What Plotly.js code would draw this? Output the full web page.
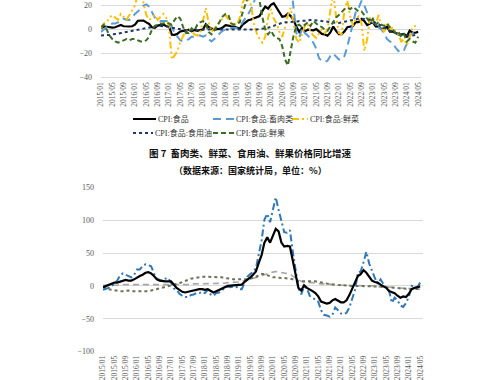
<!DOCTYPE html>
<html><head><meta charset="utf-8">
<script src="https://cdn.plot.ly/plotly-3.0.1.min.js"></script>
<style>html,body{margin:0;padding:0;background:#fff;}#chart{width:500px;height:380px;}</style>
</head><body><div id="chart"></div>
<script>
// month categories 2015/01 .. 2024/05
const startYear = 2015, endYear = 2024, endMonth = 5;
const months = [];
for (let y = startYear; y <= endYear; y++) {
  for (let m = 1; m <= 12; m++) {
    if (y === endYear && m > endMonth) break;
    months.push(y + '/' + String(m).padStart(2, '0'));
  }
}
const tickLabels = months.filter((_, i) => i % 4 === 0);

// ---- Figure 7 (top) ----
const food = [1.1,2.4,2.3,1.9,1.6,1.9,2.7,3.7,2.7,2.3,2.5,2.7,
  4.1,7.3,7.6,7.4,5.9,4.6,1.8,1.3,3.2,3.8,4.0,2.9,
  2.7,-4.3,-4.4,-3.5,-1.6,-1.2,-1.1,-0.2,-1.4,-0.4,-1.1,-0.4,
  0.0,4.4,2.1,0.7,0.1,0.3,0.5,1.7,3.6,3.3,2.5,2.5,
  1.9,0.7,4.1,6.1,7.7,8.3,9.1,10.0,11.2,15.5,19.1,17.4,
  20.6,21.9,18.3,14.8,10.6,11.1,13.2,11.2,7.9,2.2,-2.0,1.2,
  -1.6,-0.2,-0.7,-0.7,0.3,-1.7,-3.7,-4.1,-5.2,-2.4,2.5,-1.2,
  -3.8,-3.9,-1.5,1.9,2.3,2.9,6.3,6.1,8.8,7.0,3.7,4.8,
  6.2,2.6,2.4,0.4,1.0,2.3,-1.7,-1.7,-3.2,-4.0,-4.2,-3.7,
  -5.9,-0.9,-2.7,-2.7,-2.0];
const livestock = [-2,0,2,4,5,5,6,8,9,8,8,10,
  13,15,17,20,21,19,15,10,8,7,7,7,
  7,2,-3,-6,-9,-10,-9,-8,-6,-6,-5,-5,
  -6,-5,-8,-10,-8,-6,-3,-1,0,0.5,1,1.5,
  1,2,6,9,13,17,22,35,47,66,74,66,
  76,87,83,66,60,61,60,40,18,-3,-7,1,
  -3,-5,-8,-11,-16,-24,-26,-27,-26,-22,-20,-23,
  -25,-25,-22,-14,-4,6,15,18,24,20,14,8,
  6,5,2,0,-3,-8,-10,-11,-15,-18,-16,-17,
  -12,-5,-3,-2,-1];
const vegetables = [1,5,6,10,12,10,8,13,10,8,12,16,
  20,30,35,22,12,8,10,12,8,11,13,10,
  2,-25,-22,-18,-10,-6,-1,1,-2,-4,-5,-3,
  7,18,6,-2,1,4,6,10,12,8,5,5,
  4,10,22,27,25,20,5,-3,-8,-11,-6,10,
  17,9,5,-2,-6,2,12,18,6,-8,-11,-3,
  3,5,-2,-5,-7,-3,0,-3,0,16,30,11,
  -3,-4,17,24,11,3,9,11,5,-18,-8,10,
  7,4,12,2,-2,6,-1,2,-2,-4,-10,-8,
  -13,-7,2,3,4];
const edibleOil = [-5,-5,-5,-4.5,-4,-4,-3.5,-3,-2.5,-2,-1.5,-1,
  -0.5,0,0.5,1,1.5,2,2.5,3,3,3,3,2.5,
  2,1.5,1,0.5,0,-0.5,-1,-1,-1,-1,-1,-0.5,
  0,0,0,0,-0.5,-0.5,-0.5,-0.5,0,0,0,0,
  0,0,0,0,0,0,0,0,0.5,0.5,1,1.5,
  2,3,4,5,5.5,6,6,6,6,6.5,7,7,
  7,7.5,8,8,8,7.5,7,7,6.5,6,5.5,5.5,
  5.5,6,7,7.5,8,8.5,8.5,9,9,9,8.5,8,
  7,6,4.5,3,1.5,0,-1,-2,-3,-3.5,-4,-4.5,
  -5,-5,-5,-4.5,-4];
const fruit = [2,4,0,-5,-8,-10,-11,-10,-9,-8,-9,-8,
  -8,-9,-10,-10,-9,-6,0,3,4,5,5,6,
  5,4,8,11,9,2,-3,-3,1,-1,4,6,
  7,5,-2,-4,-1,3,7,11,13,12,5,4,
  5,6,14,20,28,42,39,36,24,10,0,-4,
  -1,-5,-7,-8,-14,-25,-30,-18,-5,3,4,2,
  4,6,3,7,5,3,2,0,-1,3,7,10,
  12,15,17,18,17,19,17,15,15,12,8,6,
  9,4,6,4,3,5,2,0,-3,-2,-6,-4,
  -10,-8,-10,-11,-6];

// ---- Figure 8 (bottom) ----
const pork = [-6,-5,-3,0,3,8,16,19,17,15,13,17,
  25,25,30,33,31,30,19,11,9,8,11,12,
  5,-4,-6,-12,-15,-17,-17,-14,-13,-11,-11,-9,
  -11,-6,-13,-15,-11,-10,-7,-3,-1,-2,-1,-1,
  -5,-5,5,14,18,21,27,47,69,101,110,97,
  116,135,116,97,82,81,85,53,26,-3,-13,-1,
  -4,-15,-18,-21,-24,-37,-44,-45,-47,-44,-33,-37,
  -42,-43,-41,-33,-21,-6,20,22,36,52,34,22,
  12,3,10,3,-3,-7,-26,-18,-22,-30,-32,-26,
  -17,0,-2,-2,5];
const mutton = [-2,-4,-5,-6,-7,-7,-8,-8,-7,-7,-8,-8,
  -8,-8,-9,-8,-8,-7,-6,-5,-4,-3,-2,-1,
  0,1,2,4,6,7,9,11,12,13,13,14,
  14,14,14,14,13,13,13,12,12,11,10,10,
  9,9,9,10,11,12,14,16,18,18,16,14,
  13,13,12,12,12,12,11,10,8,7,7,7,
  7,8,8,7,6,5,4,3,2,2,2,1,
  1,1,0,0,0,0,0,-1,-1,0,0,0,
  0,-1,-1,-2,-2,-2,-3,-3,-3,-4,-4,-4,
  -4,-4,-5,-5,-5];
const beef = [1,1,0,0,1,1,2,2,2,2,1,1,
  1,1,2,2,2,2,2,2,2,2,2,2,
  2,2,2,2,2,2,2,3,3,3,3,3,
  3,4,4,4,4,4,4,4,5,5,5,6,
  6,7,8,9,10,11,12,13,15,17,19,20,
  21,22,21,20,19,18,18,15,12,9,7,6,
  5,5,5,4,4,3,3,3,2,2,2,2,
  1,1,1,1,0,0,0,0,0,0,0,0,
  0,-1,-1,-1,-2,-2,-2,-3,-3,-3,-4,-4,
  -4,-5,-5,-5,-5];

const topNames = ['CPI:食品', 'CPI:食品:畜肉类', 'CPI:食品:鲜菜', 'CPI:食品:食用油', 'CPI:食品:鲜果'];
const bottomNames = ['CPI:食品:畜肉类', 'CPI:食品:猪肉', 'CPI:食品:羊肉', 'CPI:食品:牛肉'];
const captionTitle = '图 7  畜肉类、鲜菜、食用油、鲜果价格同比增速';
const captionSource = '（数据来源：国家统计局，单位：%）';

const topStyles = [
  {color: '#000000', width: 2.2, dash: 'solid'},
  {color: '#5B9BD5', width: 2, dash: '8px,5px'},
  {color: '#FFC000', width: 2, dash: '7px,3px,2px,3px,2px,3px'},
  {color: '#1F3864', width: 2, dash: 'dot'},
  {color: '#3B6E24', width: 2, dash: '5px,3px'}
];
const topSeries = [food, livestock, vegetables, edibleOil, fruit];

function tr(y, name, line, xa, ya) {
  return {x: months, y: y, name: name, type: 'scatter', mode: 'lines',
    line: line, xaxis: xa, yaxis: ya, showlegend: false, hoverinfo: 'skip'};
}

const traces = [
  tr(beef, bottomNames[3], {color: '#A6A6A6', width: 1.6, dash: '6px,4px'}, 'x2', 'y2'),
  tr(mutton, bottomNames[2], {color: '#6E7257', width: 2, dash: 'dot'}, 'x2', 'y2'),
  tr(pork, bottomNames[1], {color: '#2F77B5', width: 2, dash: '7px,3px,2px,3px'}, 'x2', 'y2'),
  tr(livestock, bottomNames[0], {color: '#000000', width: 2.2, dash: 'solid'}, 'x2', 'y2')
];
topSeries.forEach((s, i) => traces.push(tr(s, topNames[i], topStyles[i], 'x', 'y')));

// manual legend for figure 7 (layout positions in pixels)
const W = 500, H = 380;
const legendSlots = [
  {x0: 133, x1: 156, y: 119}, {x0: 213, x1: 234, y: 119}, {x0: 292, x1: 308, y: 119},
  {x0: 133, x1: 153, y: 133}, {x0: 213, x1: 234, y: 133}
];
const legendFont = {family: 'Liberation Serif, Noto Sans CJK SC, serif', size: 8, color: '#333333'};
const shapes = [], annotations = [];
legendSlots.forEach((p, i) => {
  shapes.push({type: 'line', xref: 'paper', yref: 'paper',
    x0: p.x0 / W, x1: p.x1 / W, y0: 1 - p.y / H, y1: 1 - p.y / H,
    line: {color: topStyles[i].color, width: 2, dash: topStyles[i].dash}});
  annotations.push({text: topNames[i], xref: 'paper', yref: 'paper',
    x: (p.x1 + 0.5) / W, y: 1 - p.y / H, xanchor: 'left', yanchor: 'middle',
    showarrow: false, borderpad: 0, font: legendFont});
});
annotations.push(
  {text: '<b>' + captionTitle + '</b>', xref: 'paper', yref: 'paper', x: 0.5, y: 1 - 153 / H,
    xanchor: 'center', yanchor: 'middle', showarrow: false,
    font: {family: 'Noto Sans CJK SC, sans-serif', size: 9.5, color: '#111111'}},
  {text: '<b>' + captionSource + '</b>', xref: 'paper', yref: 'paper', x: 0.5, y: 1 - 170 / H,
    xanchor: 'center', yanchor: 'middle', showarrow: false,
    font: {family: 'Noto Sans CJK SC, sans-serif', size: 9, color: '#111111'}}
);

const tickFont = {family: 'Liberation Serif, DejaVu Serif, serif', size: 7.5, color: '#595959'};
const yTickFont = {family: 'Liberation Serif, DejaVu Serif, serif', size: 8, color: '#595959'};
const xBase = {type: 'category', categoryorder: 'array', categoryarray: months,
  tickmode: 'array', tickvals: tickLabels, ticktext: tickLabels, tickangle: -90,
  showgrid: false, zeroline: false, showline: false, ticks: '', tickfont: tickFont,
  ticklabelstandoff: 1, fixedrange: true};
const yBase = {showgrid: true, gridcolor: '#D9D9D9', gridwidth: 1, zeroline: false,
  showline: false, ticks: '', tickfont: yTickFont, ticklabelstandoff: 8, fixedrange: true};

const layout = {
  width: W, height: H,
  margin: {l: 0, r: 0, t: 0, b: 0},
  paper_bgcolor: '#ffffff', plot_bgcolor: '#ffffff',
  showlegend: false,
  xaxis: Object.assign({}, xBase, {domain: [0.202, 0.842], range: [0, 113], anchor: 'y'}),
  yaxis: Object.assign({}, yBase, {domain: [0.7929, 1], range: [-41, 24.58], tickvals: [-40, -20, 0, 20], anchor: 'x'}),
  xaxis2: Object.assign({}, xBase, {domain: [0.206, 0.846], range: [0, 113], anchor: 'y2'}),
  yaxis2: Object.assign({}, yBase, {domain: [0.0733, 0.5083], range: [-101, 151], tickvals: [-100, -50, 0, 50, 100, 150], anchor: 'x2'}),
  shapes: shapes,
  annotations: annotations
};

Plotly.newPlot('chart', traces, layout, {staticPlot: true, displayModeBar: false});
</script>
</body></html>
